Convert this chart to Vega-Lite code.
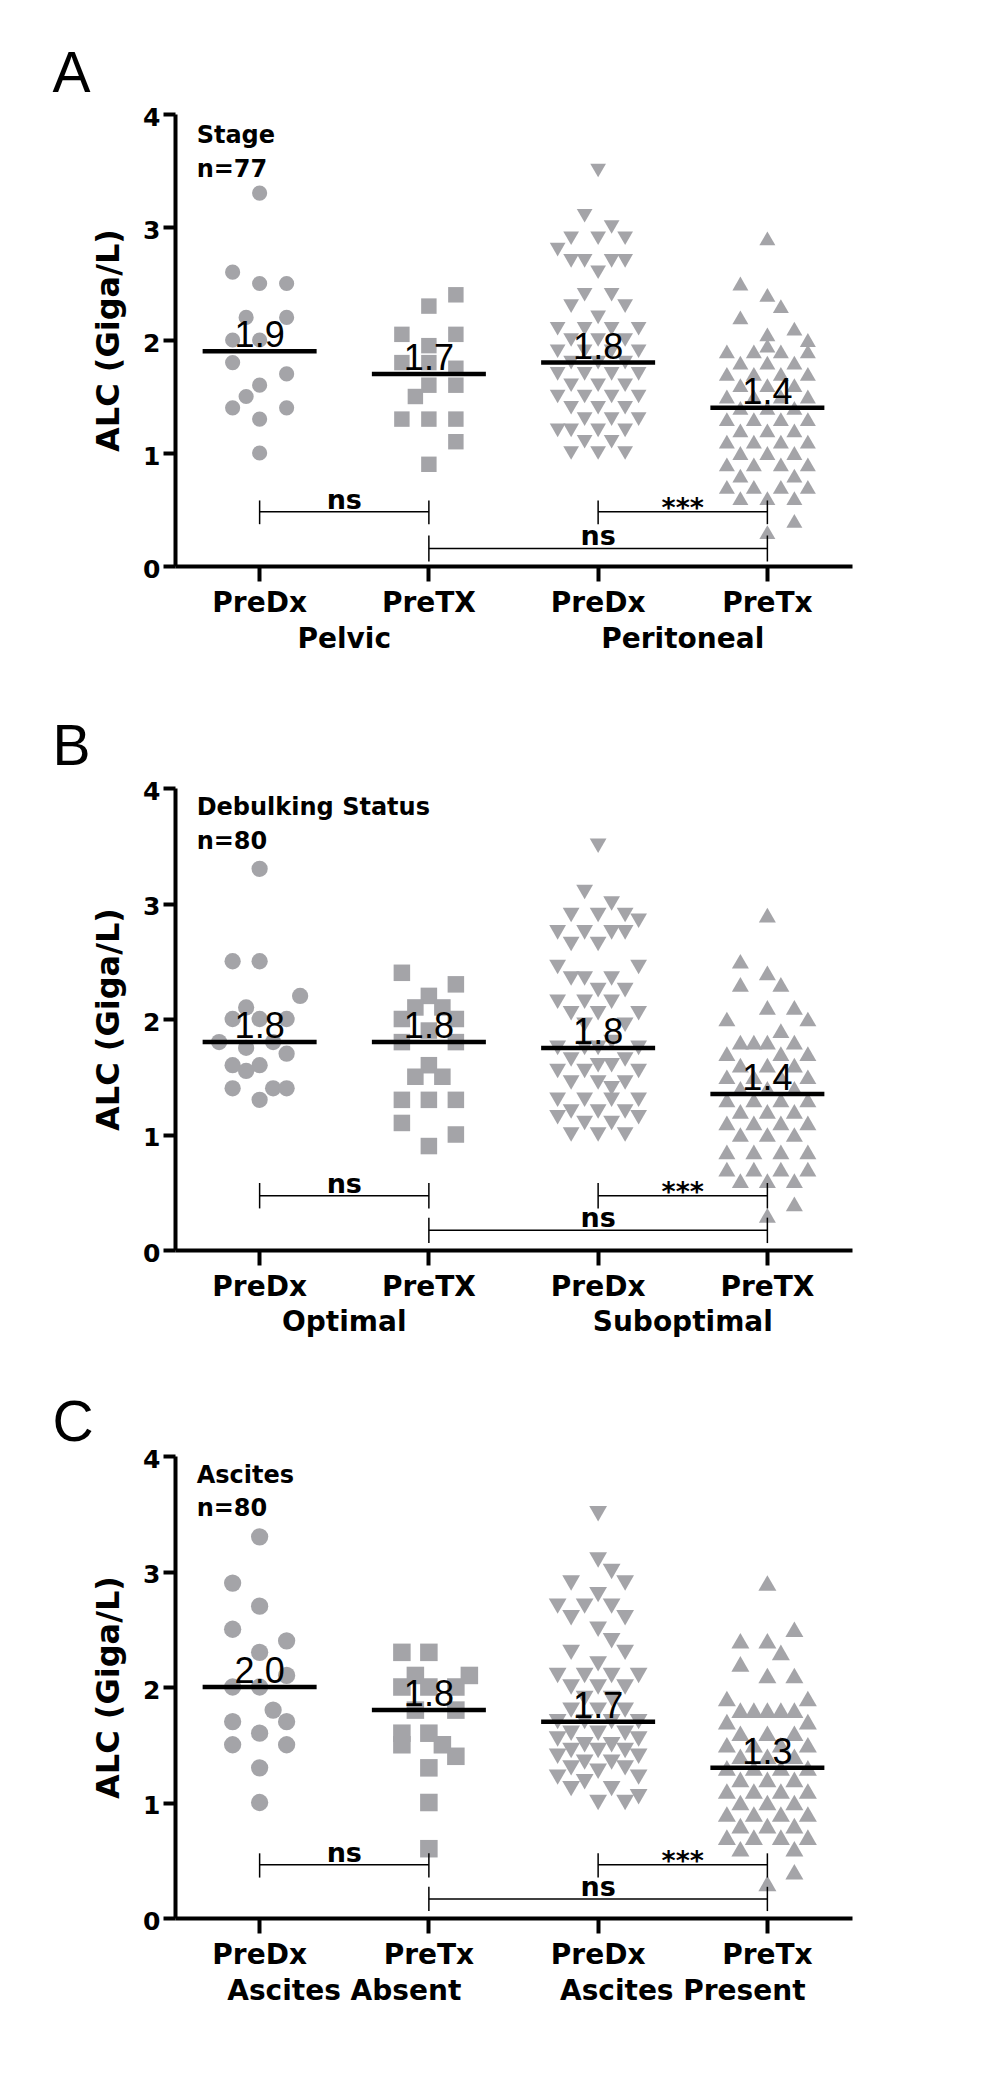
{
"$schema": "https://vega.github.io/schema/vega-lite/v6.json",
"padding": {"left": 52, "top": 46, "right": 10, "bottom": 10},
"config": {
 "view": {"stroke": null},
 "axis": {"grid": false},
 "axisX": {"labelAngle": 0, "domainColor": "black", "domainWidth": 4, "tickColor": "black", "tickWidth": 4, "tickSize": 15, "labelFont": "DejaVu Sans", "labelFontWeight": "bold", "labelFontSize": 28, "labelColor": "black", "labelPadding": 8},
 "axisY": {"domainColor": "black", "domainWidth": 4, "tickColor": "black", "tickWidth": 4, "tickSize": 12, "labelFont": "DejaVu Sans", "labelFontWeight": "bold", "labelFontSize": 25, "labelColor": "black", "labelPadding": 3, "labelOffset": 3, "labelOverlap": false, "titleFont": "DejaVu Sans", "titleFontWeight": "bold", "titleFontSize": 32, "titleColor": "black", "titlePadding": 17}
},
"datasets": {
"ptsA": [
{"c":"Pelvic PreDx","v":3.3,"k":0},{"c":"Pelvic PreDx","v":2.6,"k":-2},{"c":"Pelvic PreDx","v":2.5,"k":0},{"c":"Pelvic PreDx","v":2.5,"k":2},{"c":"Pelvic PreDx","v":2.2,"k":-1},{"c":"Pelvic PreDx","v":2.2,"k":2},{"c":"Pelvic PreDx","v":2.0,"k":-2},{"c":"Pelvic PreDx","v":2.0,"k":0},{"c":"Pelvic PreDx","v":1.8,"k":-2},{"c":"Pelvic PreDx","v":1.7,"k":2},{"c":"Pelvic PreDx","v":1.6,"k":0},{"c":"Pelvic PreDx","v":1.5,"k":-1},{"c":"Pelvic PreDx","v":1.4,"k":-2},{"c":"Pelvic PreDx","v":1.4,"k":2},{"c":"Pelvic PreDx","v":1.3,"k":0},{"c":"Pelvic PreDx","v":1.0,"k":0},
{"c":"Pelvic PreTX","v":2.4,"k":2},{"c":"Pelvic PreTX","v":2.3,"k":0},{"c":"Pelvic PreTX","v":2.05,"k":-2},{"c":"Pelvic PreTX","v":2.05,"k":2},{"c":"Pelvic PreTX","v":1.95,"k":0},{"c":"Pelvic PreTX","v":1.8,"k":-2},{"c":"Pelvic PreTX","v":1.8,"k":0},{"c":"Pelvic PreTX","v":1.75,"k":2},{"c":"Pelvic PreTX","v":1.6,"k":0},{"c":"Pelvic PreTX","v":1.6,"k":2},{"c":"Pelvic PreTX","v":1.5,"k":-1},{"c":"Pelvic PreTX","v":1.3,"k":-2},{"c":"Pelvic PreTX","v":1.3,"k":0},{"c":"Pelvic PreTX","v":1.3,"k":2},{"c":"Pelvic PreTX","v":1.1,"k":2},{"c":"Pelvic PreTX","v":0.9,"k":0},
{"c":"Peritoneal PreDx","v":3.5,"k":0},{"c":"Peritoneal PreDx","v":3.1,"k":-1},{"c":"Peritoneal PreDx","v":3.0,"k":1},{"c":"Peritoneal PreDx","v":2.9,"k":-2},{"c":"Peritoneal PreDx","v":2.9,"k":0},{"c":"Peritoneal PreDx","v":2.9,"k":2},{"c":"Peritoneal PreDx","v":2.8,"k":-3},{"c":"Peritoneal PreDx","v":2.7,"k":-2},{"c":"Peritoneal PreDx","v":2.7,"k":-1},{"c":"Peritoneal PreDx","v":2.7,"k":1},{"c":"Peritoneal PreDx","v":2.7,"k":2},{"c":"Peritoneal PreDx","v":2.6,"k":0},{"c":"Peritoneal PreDx","v":2.4,"k":-1},{"c":"Peritoneal PreDx","v":2.4,"k":1},{"c":"Peritoneal PreDx","v":2.3,"k":-2},{"c":"Peritoneal PreDx","v":2.3,"k":2},{"c":"Peritoneal PreDx","v":2.2,"k":0},{"c":"Peritoneal PreDx","v":2.1,"k":-3},{"c":"Peritoneal PreDx","v":2.1,"k":-1},{"c":"Peritoneal PreDx","v":2.1,"k":1},{"c":"Peritoneal PreDx","v":2.1,"k":3},{"c":"Peritoneal PreDx","v":2.0,"k":-2},{"c":"Peritoneal PreDx","v":2.0,"k":0},{"c":"Peritoneal PreDx","v":2.0,"k":2},{"c":"Peritoneal PreDx","v":1.9,"k":-3},{"c":"Peritoneal PreDx","v":1.9,"k":-1},{"c":"Peritoneal PreDx","v":1.9,"k":1},{"c":"Peritoneal PreDx","v":1.9,"k":3},{"c":"Peritoneal PreDx","v":1.8,"k":-2},{"c":"Peritoneal PreDx","v":1.8,"k":0},{"c":"Peritoneal PreDx","v":1.8,"k":2},{"c":"Peritoneal PreDx","v":1.7,"k":-3},{"c":"Peritoneal PreDx","v":1.7,"k":-1},{"c":"Peritoneal PreDx","v":1.7,"k":1},{"c":"Peritoneal PreDx","v":1.7,"k":3},{"c":"Peritoneal PreDx","v":1.6,"k":-2},{"c":"Peritoneal PreDx","v":1.6,"k":0},{"c":"Peritoneal PreDx","v":1.6,"k":2},{"c":"Peritoneal PreDx","v":1.5,"k":-3},{"c":"Peritoneal PreDx","v":1.5,"k":-1},{"c":"Peritoneal PreDx","v":1.5,"k":1},{"c":"Peritoneal PreDx","v":1.5,"k":3},{"c":"Peritoneal PreDx","v":1.4,"k":-2},{"c":"Peritoneal PreDx","v":1.4,"k":0},{"c":"Peritoneal PreDx","v":1.4,"k":2},{"c":"Peritoneal PreDx","v":1.3,"k":-1},{"c":"Peritoneal PreDx","v":1.3,"k":1},{"c":"Peritoneal PreDx","v":1.3,"k":3},{"c":"Peritoneal PreDx","v":1.2,"k":-3},{"c":"Peritoneal PreDx","v":1.2,"k":-2},{"c":"Peritoneal PreDx","v":1.2,"k":0},{"c":"Peritoneal PreDx","v":1.2,"k":2},{"c":"Peritoneal PreDx","v":1.1,"k":-1},{"c":"Peritoneal PreDx","v":1.1,"k":1},{"c":"Peritoneal PreDx","v":1.0,"k":-2},{"c":"Peritoneal PreDx","v":1.0,"k":0},{"c":"Peritoneal PreDx","v":1.0,"k":2},
{"c":"Peritoneal PreTx","v":2.9,"k":0},{"c":"Peritoneal PreTx","v":2.5,"k":-2},{"c":"Peritoneal PreTx","v":2.4,"k":0},{"c":"Peritoneal PreTx","v":2.3,"k":1},{"c":"Peritoneal PreTx","v":2.2,"k":-2},{"c":"Peritoneal PreTx","v":2.1,"k":2},{"c":"Peritoneal PreTx","v":2.05,"k":0},{"c":"Peritoneal PreTx","v":2.0,"k":3},{"c":"Peritoneal PreTx","v":1.95,"k":0},{"c":"Peritoneal PreTx","v":1.9,"k":-3},{"c":"Peritoneal PreTx","v":1.9,"k":-1},{"c":"Peritoneal PreTx","v":1.9,"k":1},{"c":"Peritoneal PreTx","v":1.9,"k":3},{"c":"Peritoneal PreTx","v":1.8,"k":-2},{"c":"Peritoneal PreTx","v":1.8,"k":0},{"c":"Peritoneal PreTx","v":1.8,"k":2},{"c":"Peritoneal PreTx","v":1.7,"k":-3},{"c":"Peritoneal PreTx","v":1.7,"k":-1},{"c":"Peritoneal PreTx","v":1.7,"k":1},{"c":"Peritoneal PreTx","v":1.7,"k":3},{"c":"Peritoneal PreTx","v":1.6,"k":-2},{"c":"Peritoneal PreTx","v":1.6,"k":0},{"c":"Peritoneal PreTx","v":1.6,"k":2},{"c":"Peritoneal PreTx","v":1.5,"k":-3},{"c":"Peritoneal PreTx","v":1.5,"k":-1},{"c":"Peritoneal PreTx","v":1.5,"k":1},{"c":"Peritoneal PreTx","v":1.5,"k":3},{"c":"Peritoneal PreTx","v":1.4,"k":-2},{"c":"Peritoneal PreTx","v":1.4,"k":0},{"c":"Peritoneal PreTx","v":1.4,"k":2},{"c":"Peritoneal PreTx","v":1.3,"k":-3},{"c":"Peritoneal PreTx","v":1.3,"k":-1},{"c":"Peritoneal PreTx","v":1.3,"k":1},{"c":"Peritoneal PreTx","v":1.3,"k":3},{"c":"Peritoneal PreTx","v":1.2,"k":-2},{"c":"Peritoneal PreTx","v":1.2,"k":0},{"c":"Peritoneal PreTx","v":1.2,"k":2},{"c":"Peritoneal PreTx","v":1.1,"k":-3},{"c":"Peritoneal PreTx","v":1.1,"k":-1},{"c":"Peritoneal PreTx","v":1.1,"k":1},{"c":"Peritoneal PreTx","v":1.1,"k":3},{"c":"Peritoneal PreTx","v":1.0,"k":-2},{"c":"Peritoneal PreTx","v":1.0,"k":0},{"c":"Peritoneal PreTx","v":1.0,"k":2},{"c":"Peritoneal PreTx","v":0.9,"k":-3},{"c":"Peritoneal PreTx","v":0.9,"k":-1},{"c":"Peritoneal PreTx","v":0.9,"k":1},{"c":"Peritoneal PreTx","v":0.9,"k":3},{"c":"Peritoneal PreTx","v":0.8,"k":-2},{"c":"Peritoneal PreTx","v":0.8,"k":2},{"c":"Peritoneal PreTx","v":0.7,"k":-3},{"c":"Peritoneal PreTx","v":0.7,"k":-1},{"c":"Peritoneal PreTx","v":0.7,"k":1},{"c":"Peritoneal PreTx","v":0.7,"k":3},{"c":"Peritoneal PreTx","v":0.6,"k":-2},{"c":"Peritoneal PreTx","v":0.6,"k":0},{"c":"Peritoneal PreTx","v":0.6,"k":2},{"c":"Peritoneal PreTx","v":0.4,"k":2},{"c":"Peritoneal PreTx","v":0.3,"k":0}
],
"ptsB": [
{"c":"Optimal PreDx","v":3.3,"k":0},{"c":"Optimal PreDx","v":2.5,"k":-2},{"c":"Optimal PreDx","v":2.5,"k":0},{"c":"Optimal PreDx","v":2.2,"k":3},{"c":"Optimal PreDx","v":2.1,"k":-1},{"c":"Optimal PreDx","v":2.0,"k":-2},{"c":"Optimal PreDx","v":2.0,"k":0},{"c":"Optimal PreDx","v":2.0,"k":2},{"c":"Optimal PreDx","v":1.8,"k":-3},{"c":"Optimal PreDx","v":1.8,"k":1},{"c":"Optimal PreDx","v":1.75,"k":-1},{"c":"Optimal PreDx","v":1.7,"k":2},{"c":"Optimal PreDx","v":1.6,"k":-2},{"c":"Optimal PreDx","v":1.6,"k":0},{"c":"Optimal PreDx","v":1.55,"k":-1},{"c":"Optimal PreDx","v":1.4,"k":-2},{"c":"Optimal PreDx","v":1.4,"k":1},{"c":"Optimal PreDx","v":1.4,"k":2},{"c":"Optimal PreDx","v":1.3,"k":0},
{"c":"Optimal PreTX","v":2.4,"k":-2},{"c":"Optimal PreTX","v":2.3,"k":2},{"c":"Optimal PreTX","v":2.2,"k":0},{"c":"Optimal PreTX","v":2.1,"k":-1},{"c":"Optimal PreTX","v":2.1,"k":1},{"c":"Optimal PreTX","v":2.0,"k":-2},{"c":"Optimal PreTX","v":2.0,"k":2},{"c":"Optimal PreTX","v":1.9,"k":0},{"c":"Optimal PreTX","v":1.8,"k":-2},{"c":"Optimal PreTX","v":1.8,"k":2},{"c":"Optimal PreTX","v":1.6,"k":0},{"c":"Optimal PreTX","v":1.5,"k":-1},{"c":"Optimal PreTX","v":1.5,"k":1},{"c":"Optimal PreTX","v":1.3,"k":-2},{"c":"Optimal PreTX","v":1.3,"k":0},{"c":"Optimal PreTX","v":1.3,"k":2},{"c":"Optimal PreTX","v":1.1,"k":-2},{"c":"Optimal PreTX","v":1.0,"k":2},{"c":"Optimal PreTX","v":0.9,"k":0},
{"c":"Suboptimal PreDx","v":3.5,"k":0},{"c":"Suboptimal PreDx","v":3.1,"k":-1},{"c":"Suboptimal PreDx","v":3.0,"k":1},{"c":"Suboptimal PreDx","v":2.9,"k":-2},{"c":"Suboptimal PreDx","v":2.9,"k":0},{"c":"Suboptimal PreDx","v":2.9,"k":2},{"c":"Suboptimal PreDx","v":2.85,"k":3},{"c":"Suboptimal PreDx","v":2.75,"k":-3},{"c":"Suboptimal PreDx","v":2.75,"k":-1},{"c":"Suboptimal PreDx","v":2.75,"k":1},{"c":"Suboptimal PreDx","v":2.75,"k":2},{"c":"Suboptimal PreDx","v":2.65,"k":-2},{"c":"Suboptimal PreDx","v":2.65,"k":0},{"c":"Suboptimal PreDx","v":2.45,"k":-3},{"c":"Suboptimal PreDx","v":2.45,"k":3},{"c":"Suboptimal PreDx","v":2.35,"k":-2},{"c":"Suboptimal PreDx","v":2.35,"k":-1},{"c":"Suboptimal PreDx","v":2.35,"k":1},{"c":"Suboptimal PreDx","v":2.25,"k":0},{"c":"Suboptimal PreDx","v":2.25,"k":2},{"c":"Suboptimal PreDx","v":2.15,"k":-3},{"c":"Suboptimal PreDx","v":2.15,"k":-1},{"c":"Suboptimal PreDx","v":2.15,"k":1},{"c":"Suboptimal PreDx","v":2.05,"k":-2},{"c":"Suboptimal PreDx","v":2.05,"k":0},{"c":"Suboptimal PreDx","v":2.05,"k":3},{"c":"Suboptimal PreDx","v":1.95,"k":-1},{"c":"Suboptimal PreDx","v":1.95,"k":2},{"c":"Suboptimal PreDx","v":1.8,"k":1},{"c":"Suboptimal PreDx","v":1.75,"k":-3},{"c":"Suboptimal PreDx","v":1.75,"k":-1},{"c":"Suboptimal PreDx","v":1.75,"k":0},{"c":"Suboptimal PreDx","v":1.75,"k":3},{"c":"Suboptimal PreDx","v":1.65,"k":-2},{"c":"Suboptimal PreDx","v":1.65,"k":2},{"c":"Suboptimal PreDx","v":1.6,"k":0},{"c":"Suboptimal PreDx","v":1.6,"k":1},{"c":"Suboptimal PreDx","v":1.55,"k":-3},{"c":"Suboptimal PreDx","v":1.55,"k":-1},{"c":"Suboptimal PreDx","v":1.55,"k":3},{"c":"Suboptimal PreDx","v":1.45,"k":-2},{"c":"Suboptimal PreDx","v":1.45,"k":0},{"c":"Suboptimal PreDx","v":1.45,"k":2},{"c":"Suboptimal PreDx","v":1.4,"k":1},{"c":"Suboptimal PreDx","v":1.3,"k":-3},{"c":"Suboptimal PreDx","v":1.3,"k":-1},{"c":"Suboptimal PreDx","v":1.3,"k":1},{"c":"Suboptimal PreDx","v":1.3,"k":3},{"c":"Suboptimal PreDx","v":1.2,"k":-2},{"c":"Suboptimal PreDx","v":1.2,"k":0},{"c":"Suboptimal PreDx","v":1.2,"k":2},{"c":"Suboptimal PreDx","v":1.15,"k":-3},{"c":"Suboptimal PreDx","v":1.15,"k":3},{"c":"Suboptimal PreDx","v":1.1,"k":-1},{"c":"Suboptimal PreDx","v":1.1,"k":1},{"c":"Suboptimal PreDx","v":1.0,"k":-2},{"c":"Suboptimal PreDx","v":1.0,"k":0},{"c":"Suboptimal PreDx","v":1.0,"k":2},
{"c":"Suboptimal PreTX","v":2.9,"k":0},{"c":"Suboptimal PreTX","v":2.5,"k":-2},{"c":"Suboptimal PreTX","v":2.4,"k":0},{"c":"Suboptimal PreTX","v":2.3,"k":-2},{"c":"Suboptimal PreTX","v":2.3,"k":1},{"c":"Suboptimal PreTX","v":2.1,"k":0},{"c":"Suboptimal PreTX","v":2.1,"k":2},{"c":"Suboptimal PreTX","v":2.0,"k":-3},{"c":"Suboptimal PreTX","v":2.0,"k":3},{"c":"Suboptimal PreTX","v":1.9,"k":1},{"c":"Suboptimal PreTX","v":1.8,"k":-2},{"c":"Suboptimal PreTX","v":1.8,"k":-1},{"c":"Suboptimal PreTX","v":1.8,"k":0},{"c":"Suboptimal PreTX","v":1.8,"k":2},{"c":"Suboptimal PreTX","v":1.7,"k":-3},{"c":"Suboptimal PreTX","v":1.7,"k":1},{"c":"Suboptimal PreTX","v":1.7,"k":3},{"c":"Suboptimal PreTX","v":1.6,"k":-2},{"c":"Suboptimal PreTX","v":1.6,"k":0},{"c":"Suboptimal PreTX","v":1.6,"k":2},{"c":"Suboptimal PreTX","v":1.5,"k":-3},{"c":"Suboptimal PreTX","v":1.5,"k":-1},{"c":"Suboptimal PreTX","v":1.5,"k":1},{"c":"Suboptimal PreTX","v":1.5,"k":3},{"c":"Suboptimal PreTX","v":1.4,"k":-2},{"c":"Suboptimal PreTX","v":1.4,"k":0},{"c":"Suboptimal PreTX","v":1.4,"k":2},{"c":"Suboptimal PreTX","v":1.3,"k":-3},{"c":"Suboptimal PreTX","v":1.3,"k":-1},{"c":"Suboptimal PreTX","v":1.3,"k":1},{"c":"Suboptimal PreTX","v":1.3,"k":3},{"c":"Suboptimal PreTX","v":1.2,"k":-2},{"c":"Suboptimal PreTX","v":1.2,"k":0},{"c":"Suboptimal PreTX","v":1.2,"k":2},{"c":"Suboptimal PreTX","v":1.1,"k":-3},{"c":"Suboptimal PreTX","v":1.1,"k":-1},{"c":"Suboptimal PreTX","v":1.1,"k":1},{"c":"Suboptimal PreTX","v":1.1,"k":3},{"c":"Suboptimal PreTX","v":1.0,"k":-2},{"c":"Suboptimal PreTX","v":1.0,"k":0},{"c":"Suboptimal PreTX","v":1.0,"k":2},{"c":"Suboptimal PreTX","v":0.85,"k":-3},{"c":"Suboptimal PreTX","v":0.85,"k":-1},{"c":"Suboptimal PreTX","v":0.85,"k":1},{"c":"Suboptimal PreTX","v":0.85,"k":3},{"c":"Suboptimal PreTX","v":0.7,"k":-3},{"c":"Suboptimal PreTX","v":0.7,"k":-1},{"c":"Suboptimal PreTX","v":0.7,"k":1},{"c":"Suboptimal PreTX","v":0.7,"k":3},{"c":"Suboptimal PreTX","v":0.6,"k":-2},{"c":"Suboptimal PreTX","v":0.6,"k":0},{"c":"Suboptimal PreTX","v":0.6,"k":2},{"c":"Suboptimal PreTX","v":0.4,"k":2},{"c":"Suboptimal PreTX","v":0.3,"k":0}
],
"ptsC": [
{"c":"Ascites Absent PreDx","v":3.3,"k":0},{"c":"Ascites Absent PreDx","v":2.9,"k":-2},{"c":"Ascites Absent PreDx","v":2.7,"k":0},{"c":"Ascites Absent PreDx","v":2.5,"k":-2},{"c":"Ascites Absent PreDx","v":2.4,"k":2},{"c":"Ascites Absent PreDx","v":2.3,"k":0},{"c":"Ascites Absent PreDx","v":2.1,"k":2},{"c":"Ascites Absent PreDx","v":2.0,"k":-2},{"c":"Ascites Absent PreDx","v":2.0,"k":0},{"c":"Ascites Absent PreDx","v":1.8,"k":1},{"c":"Ascites Absent PreDx","v":1.7,"k":-2},{"c":"Ascites Absent PreDx","v":1.7,"k":2},{"c":"Ascites Absent PreDx","v":1.6,"k":0},{"c":"Ascites Absent PreDx","v":1.5,"k":-2},{"c":"Ascites Absent PreDx","v":1.5,"k":2},{"c":"Ascites Absent PreDx","v":1.3,"k":0},{"c":"Ascites Absent PreDx","v":1.0,"k":0},
{"c":"Ascites Absent PreTx","v":2.3,"k":-2},{"c":"Ascites Absent PreTx","v":2.3,"k":0},{"c":"Ascites Absent PreTx","v":2.1,"k":-1},{"c":"Ascites Absent PreTx","v":2.1,"k":3},{"c":"Ascites Absent PreTx","v":2.0,"k":-2},{"c":"Ascites Absent PreTx","v":2.0,"k":0},{"c":"Ascites Absent PreTx","v":2.0,"k":2},{"c":"Ascites Absent PreTx","v":1.8,"k":-1},{"c":"Ascites Absent PreTx","v":1.8,"k":2},{"c":"Ascites Absent PreTx","v":1.6,"k":-2},{"c":"Ascites Absent PreTx","v":1.6,"k":0},{"c":"Ascites Absent PreTx","v":1.5,"k":1},{"c":"Ascites Absent PreTx","v":1.5,"k":-2},{"c":"Ascites Absent PreTx","v":1.4,"k":2},{"c":"Ascites Absent PreTx","v":1.3,"k":0},{"c":"Ascites Absent PreTx","v":1.0,"k":0},{"c":"Ascites Absent PreTx","v":0.6,"k":0},
{"c":"Ascites Present PreDx","v":3.5,"k":0},{"c":"Ascites Present PreDx","v":3.1,"k":0},{"c":"Ascites Present PreDx","v":3.0,"k":1},{"c":"Ascites Present PreDx","v":2.9,"k":-2},{"c":"Ascites Present PreDx","v":2.9,"k":2},{"c":"Ascites Present PreDx","v":2.8,"k":0},{"c":"Ascites Present PreDx","v":2.7,"k":-3},{"c":"Ascites Present PreDx","v":2.7,"k":-1},{"c":"Ascites Present PreDx","v":2.7,"k":1},{"c":"Ascites Present PreDx","v":2.6,"k":-2},{"c":"Ascites Present PreDx","v":2.6,"k":2},{"c":"Ascites Present PreDx","v":2.5,"k":0},{"c":"Ascites Present PreDx","v":2.4,"k":1},{"c":"Ascites Present PreDx","v":2.3,"k":-2},{"c":"Ascites Present PreDx","v":2.3,"k":2},{"c":"Ascites Present PreDx","v":2.2,"k":0},{"c":"Ascites Present PreDx","v":2.1,"k":-3},{"c":"Ascites Present PreDx","v":2.1,"k":-1},{"c":"Ascites Present PreDx","v":2.1,"k":1},{"c":"Ascites Present PreDx","v":2.1,"k":3},{"c":"Ascites Present PreDx","v":2.0,"k":-2},{"c":"Ascites Present PreDx","v":2.0,"k":0},{"c":"Ascites Present PreDx","v":2.0,"k":2},{"c":"Ascites Present PreDx","v":1.9,"k":-1},{"c":"Ascites Present PreDx","v":1.9,"k":1},{"c":"Ascites Present PreDx","v":1.8,"k":-2},{"c":"Ascites Present PreDx","v":1.8,"k":0},{"c":"Ascites Present PreDx","v":1.8,"k":2},{"c":"Ascites Present PreDx","v":1.7,"k":-3},{"c":"Ascites Present PreDx","v":1.7,"k":-1},{"c":"Ascites Present PreDx","v":1.7,"k":1},{"c":"Ascites Present PreDx","v":1.7,"k":3},{"c":"Ascites Present PreDx","v":1.6,"k":-2},{"c":"Ascites Present PreDx","v":1.6,"k":0},{"c":"Ascites Present PreDx","v":1.6,"k":2},{"c":"Ascites Present PreDx","v":1.55,"k":-3},{"c":"Ascites Present PreDx","v":1.55,"k":3},{"c":"Ascites Present PreDx","v":1.5,"k":-1},{"c":"Ascites Present PreDx","v":1.5,"k":1},{"c":"Ascites Present PreDx","v":1.45,"k":-2},{"c":"Ascites Present PreDx","v":1.45,"k":0},{"c":"Ascites Present PreDx","v":1.45,"k":2},{"c":"Ascites Present PreDx","v":1.4,"k":-3},{"c":"Ascites Present PreDx","v":1.4,"k":3},{"c":"Ascites Present PreDx","v":1.35,"k":-1},{"c":"Ascites Present PreDx","v":1.35,"k":1},{"c":"Ascites Present PreDx","v":1.3,"k":-2},{"c":"Ascites Present PreDx","v":1.3,"k":2},{"c":"Ascites Present PreDx","v":1.27,"k":0},{"c":"Ascites Present PreDx","v":1.22,"k":-3},{"c":"Ascites Present PreDx","v":1.22,"k":3},{"c":"Ascites Present PreDx","v":1.18,"k":-1},{"c":"Ascites Present PreDx","v":1.12,"k":-2},{"c":"Ascites Present PreDx","v":1.12,"k":1},{"c":"Ascites Present PreDx","v":1.05,"k":3},{"c":"Ascites Present PreDx","v":1.0,"k":0},{"c":"Ascites Present PreDx","v":1.0,"k":2},
{"c":"Ascites Present PreTx","v":2.9,"k":0},{"c":"Ascites Present PreTx","v":2.5,"k":2},{"c":"Ascites Present PreTx","v":2.4,"k":-2},{"c":"Ascites Present PreTx","v":2.4,"k":0},{"c":"Ascites Present PreTx","v":2.3,"k":1},{"c":"Ascites Present PreTx","v":2.2,"k":-2},{"c":"Ascites Present PreTx","v":2.1,"k":0},{"c":"Ascites Present PreTx","v":2.1,"k":2},{"c":"Ascites Present PreTx","v":1.9,"k":-3},{"c":"Ascites Present PreTx","v":1.9,"k":3},{"c":"Ascites Present PreTx","v":1.8,"k":-2},{"c":"Ascites Present PreTx","v":1.8,"k":-1},{"c":"Ascites Present PreTx","v":1.8,"k":0},{"c":"Ascites Present PreTx","v":1.8,"k":1},{"c":"Ascites Present PreTx","v":1.8,"k":2},{"c":"Ascites Present PreTx","v":1.7,"k":-3},{"c":"Ascites Present PreTx","v":1.7,"k":3},{"c":"Ascites Present PreTx","v":1.6,"k":-2},{"c":"Ascites Present PreTx","v":1.6,"k":0},{"c":"Ascites Present PreTx","v":1.6,"k":2},{"c":"Ascites Present PreTx","v":1.5,"k":-3},{"c":"Ascites Present PreTx","v":1.5,"k":-1},{"c":"Ascites Present PreTx","v":1.5,"k":1},{"c":"Ascites Present PreTx","v":1.5,"k":3},{"c":"Ascites Present PreTx","v":1.4,"k":-2},{"c":"Ascites Present PreTx","v":1.4,"k":0},{"c":"Ascites Present PreTx","v":1.4,"k":2},{"c":"Ascites Present PreTx","v":1.3,"k":-3},{"c":"Ascites Present PreTx","v":1.3,"k":-1},{"c":"Ascites Present PreTx","v":1.3,"k":1},{"c":"Ascites Present PreTx","v":1.3,"k":3},{"c":"Ascites Present PreTx","v":1.2,"k":-2},{"c":"Ascites Present PreTx","v":1.2,"k":0},{"c":"Ascites Present PreTx","v":1.2,"k":2},{"c":"Ascites Present PreTx","v":1.1,"k":-3},{"c":"Ascites Present PreTx","v":1.1,"k":-1},{"c":"Ascites Present PreTx","v":1.1,"k":1},{"c":"Ascites Present PreTx","v":1.1,"k":3},{"c":"Ascites Present PreTx","v":1.0,"k":-2},{"c":"Ascites Present PreTx","v":1.0,"k":0},{"c":"Ascites Present PreTx","v":1.0,"k":2},{"c":"Ascites Present PreTx","v":0.9,"k":-3},{"c":"Ascites Present PreTx","v":0.9,"k":-1},{"c":"Ascites Present PreTx","v":0.9,"k":1},{"c":"Ascites Present PreTx","v":0.9,"k":3},{"c":"Ascites Present PreTx","v":0.8,"k":-2},{"c":"Ascites Present PreTx","v":0.8,"k":0},{"c":"Ascites Present PreTx","v":0.8,"k":2},{"c":"Ascites Present PreTx","v":0.7,"k":-3},{"c":"Ascites Present PreTx","v":0.7,"k":-1},{"c":"Ascites Present PreTx","v":0.7,"k":1},{"c":"Ascites Present PreTx","v":0.7,"k":3},{"c":"Ascites Present PreTx","v":0.6,"k":-2},{"c":"Ascites Present PreTx","v":0.6,"k":2},{"c":"Ascites Present PreTx","v":0.4,"k":2},{"c":"Ascites Present PreTx","v":0.3,"k":0}
],
"medA": [{"c":"Pelvic PreDx","v":1.9,"lab":"1.9"},{"c":"Pelvic PreTX","v":1.7,"lab":"1.7"},{"c":"Peritoneal PreDx","v":1.8,"lab":"1.8"},{"c":"Peritoneal PreTx","v":1.4,"lab":"1.4"}],
"medB": [{"c":"Optimal PreDx","v":1.8,"lab":"1.8"},{"c":"Optimal PreTX","v":1.8,"lab":"1.8"},{"c":"Suboptimal PreDx","v":1.75,"lab":"1.8"},{"c":"Suboptimal PreTX","v":1.35,"lab":"1.4"}],
"medC": [{"c":"Ascites Absent PreDx","v":2.0,"lab":"2.0"},{"c":"Ascites Absent PreTx","v":1.8,"lab":"1.8"},{"c":"Ascites Present PreDx","v":1.7,"lab":"1.7"},{"c":"Ascites Present PreTx","v":1.3,"lab":"1.3"}],
"brA": [{"from":"Pelvic PreDx","to":"Pelvic PreTX","y":0.48,"lo":0.37,"hi":0.58},{"from":"Peritoneal PreDx","to":"Peritoneal PreTx","y":0.48,"lo":0.37,"hi":0.58},{"from":"Pelvic PreTX","to":"Peritoneal PreTx","y":0.155,"lo":0.04,"hi":0.27}],
"brB": [{"from":"Optimal PreDx","to":"Optimal PreTX","y":0.47,"lo":0.36,"hi":0.58},{"from":"Suboptimal PreDx","to":"Suboptimal PreTX","y":0.47,"lo":0.36,"hi":0.58},{"from":"Optimal PreTX","to":"Suboptimal PreTX","y":0.17,"lo":0.06,"hi":0.28}],
"brC": [{"from":"Ascites Absent PreDx","to":"Ascites Absent PreTx","y":0.46,"lo":0.35,"hi":0.56},{"from":"Ascites Present PreDx","to":"Ascites Present PreTx","y":0.46,"lo":0.35,"hi":0.56},{"from":"Ascites Absent PreTx","to":"Ascites Present PreTx","y":0.165,"lo":0.06,"hi":0.27}],
"lbA": [{"at":"Pelvic PreTX","lab":"ns","y":0.48,"kind":"mid"},{"at":"Peritoneal PreTx","lab":"***","y":0.48,"kind":"mid"},{"at":"Peritoneal PreDx","lab":"ns","y":0.155,"kind":"on"}],
"lbB": [{"at":"Optimal PreTX","lab":"ns","y":0.47,"kind":"mid"},{"at":"Suboptimal PreTX","lab":"***","y":0.47,"kind":"mid"},{"at":"Suboptimal PreDx","lab":"ns","y":0.17,"kind":"on"}],
"lbC": [{"at":"Ascites Absent PreTx","lab":"ns","y":0.46,"kind":"mid"},{"at":"Ascites Present PreTx","lab":"***","y":0.46,"kind":"mid"},{"at":"Ascites Present PreDx","lab":"ns","y":0.165,"kind":"on"}],
"grA": [{"g":"Pelvic","at":"Pelvic PreTX"},{"g":"Peritoneal","at":"Peritoneal PreTx"}],
"grB": [{"g":"Optimal","at":"Optimal PreTX"},{"g":"Suboptimal","at":"Suboptimal PreTX"}],
"grC": [{"g":"Ascites Absent","at":"Ascites Absent PreTx"},{"g":"Ascites Present","at":"Ascites Present PreTx"}]
},
"spacing": 64,
"vconcat": [
{
"width": 677, "height": 452,
"title": {"text": "A", "anchor": "start", "frame": "bounds", "font": "Liberation Sans", "fontSize": 57, "fontWeight": "normal", "color": "black", "dx": -40, "offset": -44, "baseline": "alphabetic"},
"layer": [
{"data": {"name": "ptsA"},
 "mark": {"type": "point", "filled": true, "color": "#a4a4a8", "opacity": 1, "strokeWidth": 0},
 "encoding": {
  "x": {"field": "c", "type": "nominal", "title": null, "scale": {"domain": ["Pelvic PreDx","Pelvic PreTX","Peritoneal PreDx","Peritoneal PreTx"], "paddingInner": 0, "paddingOuter": 0}, "axis": {"labelExpr": "slice(datum.value, lastindexof(datum.value, ' ') + 1)"}},
  "xOffset": {"field": "k", "type": "quantitative", "scale": {"domain": [-6.27, 6.27], "nice": false, "zero": false}},
  "y": {"field": "v", "type": "quantitative", "title": "ALC (Giga/L)", "scale": {"domain": [0, 4], "nice": false, "zero": false}, "axis": {"values": [0,1,2,3,4]}},
  "shape": {"field": "c", "type": "nominal", "legend": null, "scale": {"domain": ["Pelvic PreDx","Pelvic PreTX","Peritoneal PreDx","Peritoneal PreTx"], "range": ["circle","square","triangle-down","triangle-up"]}},
  "size": {"field": "c", "type": "nominal", "legend": null, "scale": {"domain": ["Pelvic PreDx","Pelvic PreTX","Peritoneal PreDx","Peritoneal PreTx"], "range": [230,324,330,330]}}
 }},
{"data": {"name": "medA"},
 "mark": {"type": "tick", "orient": "horizontal", "size": 114, "thickness": 4.5, "color": "black", "opacity": 1},
 "encoding": {
  "x": {"field": "c", "type": "nominal", "title": null, "scale": {"domain": ["Pelvic PreDx","Pelvic PreTX","Peritoneal PreDx","Peritoneal PreTx"], "paddingInner": 0, "paddingOuter": 0}},
  "y": {"field": "v", "type": "quantitative", "title": "ALC (Giga/L)", "scale": {"domain": [0, 4], "nice": false, "zero": false}, "axis": {"values": [0,1,2,3,4]}}
 }},
{"data": {"name": "medA"},
 "mark": {"type": "text", "font": "Liberation Sans", "fontSize": 36, "baseline": "alphabetic", "dy": -4, "color": "black"},
 "encoding": {
  "x": {"field": "c", "type": "nominal", "title": null, "scale": {"domain": ["Pelvic PreDx","Pelvic PreTX","Peritoneal PreDx","Peritoneal PreTx"], "paddingInner": 0, "paddingOuter": 0}},
  "y": {"field": "v", "type": "quantitative", "title": "ALC (Giga/L)", "scale": {"domain": [0, 4], "nice": false, "zero": false}, "axis": {"values": [0,1,2,3,4]}},
  "text": {"field": "lab"}
 }},
{"data": {"name": "brA"},
 "mark": {"type": "rule", "color": "black", "strokeWidth": 1.5},
 "encoding": {
  "x": {"field": "from", "type": "nominal", "title": null, "scale": {"domain": ["Pelvic PreDx","Pelvic PreTX","Peritoneal PreDx","Peritoneal PreTx"], "paddingInner": 0, "paddingOuter": 0}},
  "x2": {"field": "to"},
  "y": {"field": "y", "type": "quantitative", "title": "ALC (Giga/L)", "scale": {"domain": [0, 4], "nice": false, "zero": false}, "axis": {"values": [0,1,2,3,4]}}
 }},
{"data": {"name": "brA"},
 "mark": {"type": "rule", "color": "black", "strokeWidth": 1.5},
 "encoding": {
  "x": {"field": "from", "type": "nominal", "title": null, "scale": {"domain": ["Pelvic PreDx","Pelvic PreTX","Peritoneal PreDx","Peritoneal PreTx"], "paddingInner": 0, "paddingOuter": 0}},
  "y": {"field": "lo", "type": "quantitative", "title": "ALC (Giga/L)", "scale": {"domain": [0, 4], "nice": false, "zero": false}, "axis": {"values": [0,1,2,3,4]}},
  "y2": {"field": "hi"}
 }},
{"data": {"name": "brA"},
 "mark": {"type": "rule", "color": "black", "strokeWidth": 1.5},
 "encoding": {
  "x": {"field": "to", "type": "nominal", "title": null, "scale": {"domain": ["Pelvic PreDx","Pelvic PreTX","Peritoneal PreDx","Peritoneal PreTx"], "paddingInner": 0, "paddingOuter": 0}},
  "y": {"field": "lo", "type": "quantitative", "title": "ALC (Giga/L)", "scale": {"domain": [0, 4], "nice": false, "zero": false}, "axis": {"values": [0,1,2,3,4]}},
  "y2": {"field": "hi"}
 }},
{"data": {"name": "lbA"},
 "transform": [{"filter": "datum.kind == 'mid' && datum.lab == 'ns'"}],
 "mark": {"type": "text", "font": "DejaVu Sans", "fontWeight": "bold", "fontSize": 27, "baseline": "alphabetic", "dx": -84.6, "dy": -3, "color": "black"},
 "encoding": {
  "x": {"field": "at", "type": "nominal", "title": null, "scale": {"domain": ["Pelvic PreDx","Pelvic PreTX","Peritoneal PreDx","Peritoneal PreTx"], "paddingInner": 0, "paddingOuter": 0}},
  "y": {"field": "y", "type": "quantitative", "title": "ALC (Giga/L)", "scale": {"domain": [0, 4], "nice": false, "zero": false}, "axis": {"values": [0,1,2,3,4]}},
  "text": {"field": "lab"}
 }},
{"data": {"name": "lbA"},
 "transform": [{"filter": "datum.lab == '***'"}],
 "mark": {"type": "text", "font": "DejaVu Sans", "fontWeight": "bold", "fontSize": 27, "baseline": "alphabetic", "dx": -84.6, "dy": 5, "color": "black"},
 "encoding": {
  "x": {"field": "at", "type": "nominal", "title": null, "scale": {"domain": ["Pelvic PreDx","Pelvic PreTX","Peritoneal PreDx","Peritoneal PreTx"], "paddingInner": 0, "paddingOuter": 0}},
  "y": {"field": "y", "type": "quantitative", "title": "ALC (Giga/L)", "scale": {"domain": [0, 4], "nice": false, "zero": false}, "axis": {"values": [0,1,2,3,4]}},
  "text": {"field": "lab"}
 }},
{"data": {"name": "lbA"},
 "transform": [{"filter": "datum.kind == 'on'"}],
 "mark": {"type": "text", "font": "DejaVu Sans", "fontWeight": "bold", "fontSize": 27, "baseline": "alphabetic", "dy": -3, "color": "black"},
 "encoding": {
  "x": {"field": "at", "type": "nominal", "title": null, "scale": {"domain": ["Pelvic PreDx","Pelvic PreTX","Peritoneal PreDx","Peritoneal PreTx"], "paddingInner": 0, "paddingOuter": 0}},
  "y": {"field": "y", "type": "quantitative", "title": "ALC (Giga/L)", "scale": {"domain": [0, 4], "nice": false, "zero": false}, "axis": {"values": [0,1,2,3,4]}},
  "text": {"field": "lab"}
 }},
{"data": {"name": "grA"},
 "mark": {"type": "text", "font": "DejaVu Sans", "fontWeight": "bold", "fontSize": 28, "baseline": "alphabetic", "dx": -84.6, "color": "black"},
 "encoding": {
  "x": {"field": "at", "type": "nominal", "title": null, "scale": {"domain": ["Pelvic PreDx","Pelvic PreTX","Peritoneal PreDx","Peritoneal PreTx"], "paddingInner": 0, "paddingOuter": 0}},
  "y": {"datum": -0.73, "type": "quantitative", "title": "ALC (Giga/L)", "scale": {"domain": [0, 4], "nice": false, "zero": false}, "axis": {"values": [0,1,2,3,4]}},
  "text": {"field": "g"}
 }},
{"data": {"values": [{}]},
 "mark": {"type": "text", "text": "Stage", "align": "left", "baseline": "alphabetic", "font": "DejaVu Sans", "fontWeight": "bold", "fontSize": 24, "dx": -63, "color": "black"},
 "encoding": {
  "x": {"datum": "Pelvic PreDx", "type": "nominal", "title": null, "scale": {"domain": ["Pelvic PreDx","Pelvic PreTX","Peritoneal PreDx","Peritoneal PreTx"], "paddingInner": 0, "paddingOuter": 0}},
  "y": {"datum": 3.74, "type": "quantitative", "title": "ALC (Giga/L)", "scale": {"domain": [0, 4], "nice": false, "zero": false}, "axis": {"values": [0,1,2,3,4]}}
 }},
{"data": {"values": [{}]},
 "mark": {"type": "text", "text": "n=77", "align": "left", "baseline": "alphabetic", "font": "DejaVu Sans", "fontWeight": "bold", "fontSize": 24, "dx": -63, "color": "black"},
 "encoding": {
  "x": {"datum": "Pelvic PreDx", "type": "nominal", "title": null, "scale": {"domain": ["Pelvic PreDx","Pelvic PreTX","Peritoneal PreDx","Peritoneal PreTx"], "paddingInner": 0, "paddingOuter": 0}},
  "y": {"datum": 3.44, "type": "quantitative", "title": "ALC (Giga/L)", "scale": {"domain": [0, 4], "nice": false, "zero": false}, "axis": {"values": [0,1,2,3,4]}}
 }}
]
},
{
"spacing": 58,
"vconcat": [
{
"width": 677, "height": 462,
"title": {"text": "B", "anchor": "start", "frame": "bounds", "font": "Liberation Sans", "fontSize": 57, "fontWeight": "normal", "color": "black", "dx": -40, "offset": -43, "baseline": "alphabetic"},
"layer": [
{"data": {"name": "ptsB"},
 "mark": {"type": "point", "filled": true, "color": "#a4a4a8", "opacity": 1, "strokeWidth": 0},
 "encoding": {
  "x": {"field": "c", "type": "nominal", "title": null, "scale": {"domain": ["Optimal PreDx","Optimal PreTX","Suboptimal PreDx","Suboptimal PreTX"], "paddingInner": 0, "paddingOuter": 0}, "axis": {"labelExpr": "slice(datum.value, lastindexof(datum.value, ' ') + 1)"}},
  "xOffset": {"field": "k", "type": "quantitative", "scale": {"domain": [-6.27, 6.27], "nice": false, "zero": false}},
  "y": {"field": "v", "type": "quantitative", "title": "ALC (Giga/L)", "scale": {"domain": [0, 4], "nice": false, "zero": false}, "axis": {"values": [0,1,2,3,4]}},
  "shape": {"field": "c", "type": "nominal", "legend": null, "scale": {"domain": ["Optimal PreDx","Optimal PreTX","Suboptimal PreDx","Suboptimal PreTX"], "range": ["circle","square","triangle-down","triangle-up"]}},
  "size": {"field": "c", "type": "nominal", "legend": null, "scale": {"domain": ["Optimal PreDx","Optimal PreTX","Suboptimal PreDx","Suboptimal PreTX"], "range": [230,324,330,330]}}
 }},
{"data": {"name": "medB"},
 "mark": {"type": "tick", "orient": "horizontal", "size": 114, "thickness": 4.5, "color": "black", "opacity": 1},
 "encoding": {
  "x": {"field": "c", "type": "nominal", "title": null, "scale": {"domain": ["Optimal PreDx","Optimal PreTX","Suboptimal PreDx","Suboptimal PreTX"], "paddingInner": 0, "paddingOuter": 0}},
  "y": {"field": "v", "type": "quantitative", "title": "ALC (Giga/L)", "scale": {"domain": [0, 4], "nice": false, "zero": false}, "axis": {"values": [0,1,2,3,4]}}
 }},
{"data": {"name": "medB"},
 "mark": {"type": "text", "font": "Liberation Sans", "fontSize": 36, "baseline": "alphabetic", "dy": -4, "color": "black"},
 "encoding": {
  "x": {"field": "c", "type": "nominal", "title": null, "scale": {"domain": ["Optimal PreDx","Optimal PreTX","Suboptimal PreDx","Suboptimal PreTX"], "paddingInner": 0, "paddingOuter": 0}},
  "y": {"field": "v", "type": "quantitative", "title": "ALC (Giga/L)", "scale": {"domain": [0, 4], "nice": false, "zero": false}, "axis": {"values": [0,1,2,3,4]}},
  "text": {"field": "lab"}
 }},
{"data": {"name": "brB"},
 "mark": {"type": "rule", "color": "black", "strokeWidth": 1.5},
 "encoding": {
  "x": {"field": "from", "type": "nominal", "title": null, "scale": {"domain": ["Optimal PreDx","Optimal PreTX","Suboptimal PreDx","Suboptimal PreTX"], "paddingInner": 0, "paddingOuter": 0}},
  "x2": {"field": "to"},
  "y": {"field": "y", "type": "quantitative", "title": "ALC (Giga/L)", "scale": {"domain": [0, 4], "nice": false, "zero": false}, "axis": {"values": [0,1,2,3,4]}}
 }},
{"data": {"name": "brB"},
 "mark": {"type": "rule", "color": "black", "strokeWidth": 1.5},
 "encoding": {
  "x": {"field": "from", "type": "nominal", "title": null, "scale": {"domain": ["Optimal PreDx","Optimal PreTX","Suboptimal PreDx","Suboptimal PreTX"], "paddingInner": 0, "paddingOuter": 0}},
  "y": {"field": "lo", "type": "quantitative", "title": "ALC (Giga/L)", "scale": {"domain": [0, 4], "nice": false, "zero": false}, "axis": {"values": [0,1,2,3,4]}},
  "y2": {"field": "hi"}
 }},
{"data": {"name": "brB"},
 "mark": {"type": "rule", "color": "black", "strokeWidth": 1.5},
 "encoding": {
  "x": {"field": "to", "type": "nominal", "title": null, "scale": {"domain": ["Optimal PreDx","Optimal PreTX","Suboptimal PreDx","Suboptimal PreTX"], "paddingInner": 0, "paddingOuter": 0}},
  "y": {"field": "lo", "type": "quantitative", "title": "ALC (Giga/L)", "scale": {"domain": [0, 4], "nice": false, "zero": false}, "axis": {"values": [0,1,2,3,4]}},
  "y2": {"field": "hi"}
 }},
{"data": {"name": "lbB"},
 "transform": [{"filter": "datum.kind == 'mid' && datum.lab == 'ns'"}],
 "mark": {"type": "text", "font": "DejaVu Sans", "fontWeight": "bold", "fontSize": 27, "baseline": "alphabetic", "dx": -84.6, "dy": -3, "color": "black"},
 "encoding": {
  "x": {"field": "at", "type": "nominal", "title": null, "scale": {"domain": ["Optimal PreDx","Optimal PreTX","Suboptimal PreDx","Suboptimal PreTX"], "paddingInner": 0, "paddingOuter": 0}},
  "y": {"field": "y", "type": "quantitative", "title": "ALC (Giga/L)", "scale": {"domain": [0, 4], "nice": false, "zero": false}, "axis": {"values": [0,1,2,3,4]}},
  "text": {"field": "lab"}
 }},
{"data": {"name": "lbB"},
 "transform": [{"filter": "datum.lab == '***'"}],
 "mark": {"type": "text", "font": "DejaVu Sans", "fontWeight": "bold", "fontSize": 27, "baseline": "alphabetic", "dx": -84.6, "dy": 5, "color": "black"},
 "encoding": {
  "x": {"field": "at", "type": "nominal", "title": null, "scale": {"domain": ["Optimal PreDx","Optimal PreTX","Suboptimal PreDx","Suboptimal PreTX"], "paddingInner": 0, "paddingOuter": 0}},
  "y": {"field": "y", "type": "quantitative", "title": "ALC (Giga/L)", "scale": {"domain": [0, 4], "nice": false, "zero": false}, "axis": {"values": [0,1,2,3,4]}},
  "text": {"field": "lab"}
 }},
{"data": {"name": "lbB"},
 "transform": [{"filter": "datum.kind == 'on'"}],
 "mark": {"type": "text", "font": "DejaVu Sans", "fontWeight": "bold", "fontSize": 27, "baseline": "alphabetic", "dy": -3, "color": "black"},
 "encoding": {
  "x": {"field": "at", "type": "nominal", "title": null, "scale": {"domain": ["Optimal PreDx","Optimal PreTX","Suboptimal PreDx","Suboptimal PreTX"], "paddingInner": 0, "paddingOuter": 0}},
  "y": {"field": "y", "type": "quantitative", "title": "ALC (Giga/L)", "scale": {"domain": [0, 4], "nice": false, "zero": false}, "axis": {"values": [0,1,2,3,4]}},
  "text": {"field": "lab"}
 }},
{"data": {"name": "grB"},
 "mark": {"type": "text", "font": "DejaVu Sans", "fontWeight": "bold", "fontSize": 28, "baseline": "alphabetic", "dx": -84.6, "color": "black"},
 "encoding": {
  "x": {"field": "at", "type": "nominal", "title": null, "scale": {"domain": ["Optimal PreDx","Optimal PreTX","Suboptimal PreDx","Suboptimal PreTX"], "paddingInner": 0, "paddingOuter": 0}},
  "y": {"datum": -0.70, "type": "quantitative", "title": "ALC (Giga/L)", "scale": {"domain": [0, 4], "nice": false, "zero": false}, "axis": {"values": [0,1,2,3,4]}},
  "text": {"field": "g"}
 }},
{"data": {"values": [{}]},
 "mark": {"type": "text", "text": "Debulking Status", "align": "left", "baseline": "alphabetic", "font": "DejaVu Sans", "fontWeight": "bold", "fontSize": 24, "dx": -63, "color": "black"},
 "encoding": {
  "x": {"datum": "Optimal PreDx", "type": "nominal", "title": null, "scale": {"domain": ["Optimal PreDx","Optimal PreTX","Suboptimal PreDx","Suboptimal PreTX"], "paddingInner": 0, "paddingOuter": 0}},
  "y": {"datum": 3.77, "type": "quantitative", "title": "ALC (Giga/L)", "scale": {"domain": [0, 4], "nice": false, "zero": false}, "axis": {"values": [0,1,2,3,4]}}
 }},
{"data": {"values": [{}]},
 "mark": {"type": "text", "text": "n=80", "align": "left", "baseline": "alphabetic", "font": "DejaVu Sans", "fontWeight": "bold", "fontSize": 24, "dx": -63, "color": "black"},
 "encoding": {
  "x": {"datum": "Optimal PreDx", "type": "nominal", "title": null, "scale": {"domain": ["Optimal PreDx","Optimal PreTX","Suboptimal PreDx","Suboptimal PreTX"], "paddingInner": 0, "paddingOuter": 0}},
  "y": {"datum": 3.47, "type": "quantitative", "title": "ALC (Giga/L)", "scale": {"domain": [0, 4], "nice": false, "zero": false}, "axis": {"values": [0,1,2,3,4]}}
 }}
]
},
{
"width": 677, "height": 462,
"title": {"text": "C", "anchor": "start", "frame": "bounds", "font": "Liberation Sans", "fontSize": 57, "fontWeight": "normal", "color": "black", "dx": -40, "offset": -51, "baseline": "alphabetic"},
"layer": [
{"data": {"name": "ptsC"},
 "mark": {"type": "point", "filled": true, "color": "#a4a4a8", "opacity": 1, "strokeWidth": 0},
 "encoding": {
  "x": {"field": "c", "type": "nominal", "title": null, "scale": {"domain": ["Ascites Absent PreDx","Ascites Absent PreTx","Ascites Present PreDx","Ascites Present PreTx"], "paddingInner": 0, "paddingOuter": 0}, "axis": {"labelExpr": "slice(datum.value, lastindexof(datum.value, ' ') + 1)"}},
  "xOffset": {"field": "k", "type": "quantitative", "scale": {"domain": [-6.27, 6.27], "nice": false, "zero": false}},
  "y": {"field": "v", "type": "quantitative", "title": "ALC (Giga/L)", "scale": {"domain": [0, 4], "nice": false, "zero": false}, "axis": {"values": [0,1,2,3,4]}},
  "shape": {"field": "c", "type": "nominal", "legend": null, "scale": {"domain": ["Ascites Absent PreDx","Ascites Absent PreTx","Ascites Present PreDx","Ascites Present PreTx"], "range": ["circle","square","triangle-down","triangle-up"]}},
  "size": {"field": "c", "type": "nominal", "legend": null, "scale": {"domain": ["Ascites Absent PreDx","Ascites Absent PreTx","Ascites Present PreDx","Ascites Present PreTx"], "range": [230,324,330,330]}}
 }},
{"data": {"name": "medC"},
 "mark": {"type": "tick", "orient": "horizontal", "size": 114, "thickness": 4.5, "color": "black", "opacity": 1},
 "encoding": {
  "x": {"field": "c", "type": "nominal", "title": null, "scale": {"domain": ["Ascites Absent PreDx","Ascites Absent PreTx","Ascites Present PreDx","Ascites Present PreTx"], "paddingInner": 0, "paddingOuter": 0}},
  "y": {"field": "v", "type": "quantitative", "title": "ALC (Giga/L)", "scale": {"domain": [0, 4], "nice": false, "zero": false}, "axis": {"values": [0,1,2,3,4]}}
 }},
{"data": {"name": "medC"},
 "mark": {"type": "text", "font": "Liberation Sans", "fontSize": 36, "baseline": "alphabetic", "dy": -4, "color": "black"},
 "encoding": {
  "x": {"field": "c", "type": "nominal", "title": null, "scale": {"domain": ["Ascites Absent PreDx","Ascites Absent PreTx","Ascites Present PreDx","Ascites Present PreTx"], "paddingInner": 0, "paddingOuter": 0}},
  "y": {"field": "v", "type": "quantitative", "title": "ALC (Giga/L)", "scale": {"domain": [0, 4], "nice": false, "zero": false}, "axis": {"values": [0,1,2,3,4]}},
  "text": {"field": "lab"}
 }},
{"data": {"name": "brC"},
 "mark": {"type": "rule", "color": "black", "strokeWidth": 1.5},
 "encoding": {
  "x": {"field": "from", "type": "nominal", "title": null, "scale": {"domain": ["Ascites Absent PreDx","Ascites Absent PreTx","Ascites Present PreDx","Ascites Present PreTx"], "paddingInner": 0, "paddingOuter": 0}},
  "x2": {"field": "to"},
  "y": {"field": "y", "type": "quantitative", "title": "ALC (Giga/L)", "scale": {"domain": [0, 4], "nice": false, "zero": false}, "axis": {"values": [0,1,2,3,4]}}
 }},
{"data": {"name": "brC"},
 "mark": {"type": "rule", "color": "black", "strokeWidth": 1.5},
 "encoding": {
  "x": {"field": "from", "type": "nominal", "title": null, "scale": {"domain": ["Ascites Absent PreDx","Ascites Absent PreTx","Ascites Present PreDx","Ascites Present PreTx"], "paddingInner": 0, "paddingOuter": 0}},
  "y": {"field": "lo", "type": "quantitative", "title": "ALC (Giga/L)", "scale": {"domain": [0, 4], "nice": false, "zero": false}, "axis": {"values": [0,1,2,3,4]}},
  "y2": {"field": "hi"}
 }},
{"data": {"name": "brC"},
 "mark": {"type": "rule", "color": "black", "strokeWidth": 1.5},
 "encoding": {
  "x": {"field": "to", "type": "nominal", "title": null, "scale": {"domain": ["Ascites Absent PreDx","Ascites Absent PreTx","Ascites Present PreDx","Ascites Present PreTx"], "paddingInner": 0, "paddingOuter": 0}},
  "y": {"field": "lo", "type": "quantitative", "title": "ALC (Giga/L)", "scale": {"domain": [0, 4], "nice": false, "zero": false}, "axis": {"values": [0,1,2,3,4]}},
  "y2": {"field": "hi"}
 }},
{"data": {"name": "lbC"},
 "transform": [{"filter": "datum.kind == 'mid' && datum.lab == 'ns'"}],
 "mark": {"type": "text", "font": "DejaVu Sans", "fontWeight": "bold", "fontSize": 27, "baseline": "alphabetic", "dx": -84.6, "dy": -3, "color": "black"},
 "encoding": {
  "x": {"field": "at", "type": "nominal", "title": null, "scale": {"domain": ["Ascites Absent PreDx","Ascites Absent PreTx","Ascites Present PreDx","Ascites Present PreTx"], "paddingInner": 0, "paddingOuter": 0}},
  "y": {"field": "y", "type": "quantitative", "title": "ALC (Giga/L)", "scale": {"domain": [0, 4], "nice": false, "zero": false}, "axis": {"values": [0,1,2,3,4]}},
  "text": {"field": "lab"}
 }},
{"data": {"name": "lbC"},
 "transform": [{"filter": "datum.lab == '***'"}],
 "mark": {"type": "text", "font": "DejaVu Sans", "fontWeight": "bold", "fontSize": 27, "baseline": "alphabetic", "dx": -84.6, "dy": 5, "color": "black"},
 "encoding": {
  "x": {"field": "at", "type": "nominal", "title": null, "scale": {"domain": ["Ascites Absent PreDx","Ascites Absent PreTx","Ascites Present PreDx","Ascites Present PreTx"], "paddingInner": 0, "paddingOuter": 0}},
  "y": {"field": "y", "type": "quantitative", "title": "ALC (Giga/L)", "scale": {"domain": [0, 4], "nice": false, "zero": false}, "axis": {"values": [0,1,2,3,4]}},
  "text": {"field": "lab"}
 }},
{"data": {"name": "lbC"},
 "transform": [{"filter": "datum.kind == 'on'"}],
 "mark": {"type": "text", "font": "DejaVu Sans", "fontWeight": "bold", "fontSize": 27, "baseline": "alphabetic", "dy": -3, "color": "black"},
 "encoding": {
  "x": {"field": "at", "type": "nominal", "title": null, "scale": {"domain": ["Ascites Absent PreDx","Ascites Absent PreTx","Ascites Present PreDx","Ascites Present PreTx"], "paddingInner": 0, "paddingOuter": 0}},
  "y": {"field": "y", "type": "quantitative", "title": "ALC (Giga/L)", "scale": {"domain": [0, 4], "nice": false, "zero": false}, "axis": {"values": [0,1,2,3,4]}},
  "text": {"field": "lab"}
 }},
{"data": {"name": "grC"},
 "mark": {"type": "text", "font": "DejaVu Sans", "fontWeight": "bold", "fontSize": 28, "baseline": "alphabetic", "dx": -84.6, "color": "black"},
 "encoding": {
  "x": {"field": "at", "type": "nominal", "title": null, "scale": {"domain": ["Ascites Absent PreDx","Ascites Absent PreTx","Ascites Present PreDx","Ascites Present PreTx"], "paddingInner": 0, "paddingOuter": 0}},
  "y": {"datum": -0.71, "type": "quantitative", "title": "ALC (Giga/L)", "scale": {"domain": [0, 4], "nice": false, "zero": false}, "axis": {"values": [0,1,2,3,4]}},
  "text": {"field": "g"}
 }},
{"data": {"values": [{}]},
 "mark": {"type": "text", "text": "Ascites", "align": "left", "baseline": "alphabetic", "font": "DejaVu Sans", "fontWeight": "bold", "fontSize": 24, "dx": -63, "color": "black"},
 "encoding": {
  "x": {"datum": "Ascites Absent PreDx", "type": "nominal", "title": null, "scale": {"domain": ["Ascites Absent PreDx","Ascites Absent PreTx","Ascites Present PreDx","Ascites Present PreTx"], "paddingInner": 0, "paddingOuter": 0}},
  "y": {"datum": 3.77, "type": "quantitative", "title": "ALC (Giga/L)", "scale": {"domain": [0, 4], "nice": false, "zero": false}, "axis": {"values": [0,1,2,3,4]}}
 }},
{"data": {"values": [{}]},
 "mark": {"type": "text", "text": "n=80", "align": "left", "baseline": "alphabetic", "font": "DejaVu Sans", "fontWeight": "bold", "fontSize": 24, "dx": -63, "color": "black"},
 "encoding": {
  "x": {"datum": "Ascites Absent PreDx", "type": "nominal", "title": null, "scale": {"domain": ["Ascites Absent PreDx","Ascites Absent PreTx","Ascites Present PreDx","Ascites Present PreTx"], "paddingInner": 0, "paddingOuter": 0}},
  "y": {"datum": 3.48, "type": "quantitative", "title": "ALC (Giga/L)", "scale": {"domain": [0, 4], "nice": false, "zero": false}, "axis": {"values": [0,1,2,3,4]}}
 }}
]
}
]
}
]
}
